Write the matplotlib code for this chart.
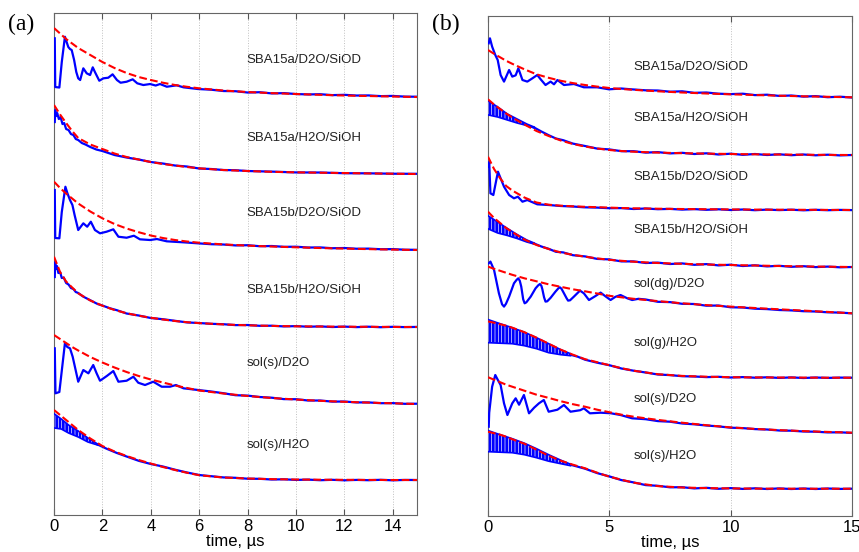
import numpy as np
import matplotlib.pyplot as plt

plt.rcParams['font.family'] = ['Liberation Sans', 'DejaVu Sans']
plt.rcParams['hatch.linewidth'] = 0.45

# ---- data (signal heights above each trace's own baseline, a.u.) ----
fit_t = [0, 0.25, 0.5, 0.75, 1, 1.5, 2, 2.5, 3, 3.5, 4, 4.5, 5, 5.5, 6, 7, 8, 9, 10, 11, 12, 13, 14, 15]

# panel (a)
a_names = ["SBA15a/D2O/SiOD", "SBA15a/H2O/SiOH", "SBA15b/D2O/SiOD",
           "SBA15b/H2O/SiOH", "sol(s)/D2O", "sol(s)/H2O"]

a1_t = [0.03, 0.05, 0.22, 0.32, 0.45, 0.52, 0.59, 0.66, 0.73, 0.83, 0.92, 1.0, 1.08, 1.21, 1.35, 1.49, 1.6, 1.69,
        1.87, 2.04, 2.24, 2.42, 2.6, 2.75, 3.0, 3.25, 3.44, 3.69, 3.97, 4.2, 4.38, 4.66, 5.07, 5.35, 5.6, 5.95,
        6.5, 7, 7.5, 8, 8.5, 9, 9.5, 10, 10.5, 11, 11.5, 12, 12.5, 13, 13.5, 14, 14.5, 15]
a1_sig = [58.7, 10, 9.5, 35, 60.3, 55, 50, 48, 47, 37, 25, 18.7, 17, 28.7, 23.7, 22, 29.7, 25,
          16.3, 18.7, 19.3, 22.7, 17, 14.3, 15.3, 17.7, 13.7, 12, 13, 11.5, 13, 10.3, 11.7, 9.7, 9, 8,
          7.3, 6, 5.8, 4.5, 4.8, 3.6, 3.9, 3.0, 2.6, 2.8, 1.9, 2.2, 1.5, 1.6, 0.9, 1.1, 0.4, 0.3]
a1_fit = [69, 63.5, 58, 53.5, 49, 42, 35, 29, 24, 20, 17, 14.3, 12, 10.2, 8.7, 6.5, 5, 3.9, 3.0, 2.2, 1.5, 1.0, 0.5, 0]

a2_t = [0.03, 0.05, 0.08, 0.13, 0.2, 0.27, 0.35, 0.42, 0.5, 0.6, 0.7, 0.8, 0.9, 1.0, 1.15, 1.3, 1.5, 1.75, 2,
        2.5, 3, 3.5, 4, 4.5, 5, 5.5, 6, 6.5, 7, 7.5, 8, 9, 10, 11, 12, 13, 14, 15]
a2_sig = [52, 64, 58, 61, 55, 57, 50, 51, 45, 44, 40, 39, 35, 34, 31, 29.5, 27, 24.5, 23,
          19, 16.5, 14.5, 12, 10.5, 8.5, 7.5, 5.5, 5, 4, 3.8, 3, 2.4, 1.6, 1.5, 0.8, 0.7, 0.3, 0.2]
a2_fit = [69, 59.5, 51, 43, 36, 29.5, 25, 20.5, 17, 14.5, 12, 10, 8.5, 7, 5.7, 4, 3, 2.2, 1.7, 1.3, 1, 0.6, 0.3, 0]

a3_t = [0.03, 0.05, 0.22, 0.32, 0.47, 0.55, 0.66, 0.76, 0.85, 1.0, 1.21, 1.37, 1.52, 1.69, 1.9, 2.17, 2.45, 2.66,
        3.0, 3.3, 3.55, 3.97, 4.25, 4.66, 5.35, 5.95, 6.5, 7, 7.5, 8, 8.5, 9, 9.5, 10, 10.5, 11, 11.5, 12,
        12.5, 13, 13.5, 14, 14.5, 15]
a3_sig = [60, 12, 11.7, 38, 63.3, 57, 50, 45, 35, 20, 26.7, 23.3, 28.3, 20, 16.7, 18.3, 20.7, 13.3,
          12.3, 14.3, 10.7, 10, 11, 8.7, 7.7, 6.7, 5.8, 5.5, 4.6, 4.8, 3.8, 4, 3.2, 3.3, 2.5, 2.6, 1.8, 2,
          1.3, 1.4, 0.8, 0.9, 0.3, 0.2]
a3_fit = [68.3, 62, 56.5, 51.5, 46.5, 38.5, 31.7, 26, 21.5, 17.8, 14.5, 12, 10, 8.5, 7.3, 5.6, 4.4, 3.5, 2.7, 2.0, 1.4, 0.9, 0.4, 0]

a4_t = [0.03, 0.05, 0.07, 0.12, 0.18, 0.25, 0.32, 0.4, 0.5, 0.6, 0.7, 0.8, 0.9, 1.0, 1.2, 1.4, 1.6, 1.8, 2, 2.3,
        2.6, 3, 3.5, 4, 4.5, 5, 5.5, 6, 6.5, 7, 7.5, 8, 8.5, 9, 9.5, 10, 10.5, 11, 11.5, 12, 12.5, 13,
        13.5, 14, 14.5, 15]
a4_sig = [50, 65, 58, 61, 54, 55, 49, 49.5, 44, 42.5, 39, 38, 35, 34, 30.5, 28, 25.5, 23, 21.5, 18.8,
          16.8, 13.5, 11.5, 9, 7.8, 6.2, 4.6, 4, 3.2, 2.8, 1.9, 2, 1.2, 1.3, 0.6, 0.9, 0.3, 0.6, 0, 0.4, -0.1, 0.3,
          -0.2, 0.2, -0.1, 0.1]
a4_fit = [70.3, 55, 45.5, 39.5, 33.7, 26.5, 21.3, 17, 13.8, 11.3, 9.3, 7.5, 6, 4.8, 3.9, 2.6, 1.7, 1.1, 0.7, 0.5, 0.3, 0.2, 0.1, 0]

a5_t = [0.03, 0.06, 0.22, 0.45, 0.55, 0.66, 0.77, 1.0, 1.21, 1.42, 1.62, 1.76, 1.9, 2.18, 2.45, 2.66, 3.0, 3.28,
        3.48, 3.76, 4.1, 4.45, 4.79, 5.04, 5.35, 5.96, 6.5, 7, 7.5, 8, 8.5, 9, 9.5, 10, 10.5, 11, 11.5, 12,
        12.5, 13, 13.5, 14, 14.5, 15]
a5_sig = [55.7, 10.7, 12, 60.7, 57, 55.7, 47.3, 22.3, 34, 30.7, 39, 30.7, 23.3, 28, 33, 22.3, 23.3, 27.3,
          21.3, 19, 22.3, 17.3, 17.3, 19, 15.7, 14, 12.5, 10.8, 8.8, 8.4, 7, 6.3, 4.9, 4.8, 3.5, 3.5, 2.4, 2.5,
          1.6, 1.6, 0.8, 0.9, 0.2, 0.3]
a5_fit = [69, 65, 61, 57, 53.5, 47, 41.5, 36.5, 32, 28, 24.5, 21.5, 18.5, 16, 13.5, 10.5, 8, 6, 4.5, 3.2, 2.2, 1.4, 0.7, 0]

a6_band_t = [0.02, 0.3, 0.6, 1.0, 1.4, 1.8]
a6_band_lo = [52, 51, 47, 43, 38, 35]
a6_band_hi = [66, 61, 55, 49, 42, 36]
a6_t = [1.8, 2.2, 2.6, 3, 3.5, 4, 4.5, 5, 5.5, 6, 6.5, 7, 7.5, 8, 8.5, 9, 9.5, 10, 10.5, 11, 11.5, 12, 12.5,
        13, 13.5, 14, 14.5, 15]
a6_sig = [35.5, 31, 27, 23.5, 19.2, 16, 13.5, 10.3, 7.5, 5, 3.8, 2.6, 2.2, 1.3, 1.2, 0.5, 0.7, 0.1, 0.4, -0.2,
          0.2, -0.3, 0.1, -0.2, 0.2, -0.3, 0.1, 0]
a6_fit = [70, 65, 60, 55, 50, 41.5, 34, 28.5, 24, 20, 16.5, 13, 10, 7.2, 4.8, 2.5, 1.5, 0.9, 0.5, 0.3, 0.2, 0.1, 0, 0]

# panel (b)
b_names = ["SBA15a/D2O/SiOD", "SBA15a/H2O/SiOH", "SBA15b/D2O/SiOD", "SBA15b/H2O/SiOH",
           "sol(dg)/D2O", "sol(g)/H2O", "sol(s)/D2O", "sol(s)/H2O"]

b1_t = [0.03, 0.08, 0.17, 0.3, 0.4, 0.52, 0.66, 0.87, 1.0, 1.14, 1.25, 1.42, 1.62, 1.83, 2.03, 2.17, 2.37, 2.58,
        2.72, 2.86, 3.13, 3.54, 3.95, 4.5, 4.98, 5.5, 5.9, 6.5, 7, 7.5, 8, 8.5, 9, 9.5, 10, 10.5, 11, 11.5,
        12, 12.5, 13, 13.5, 14, 14.5, 15]
b1_sig = [54, 59, 50.7, 42.3, 37.3, 22.3, 15.7, 27.3, 20.7, 22, 29, 17.3, 15.7, 19, 22.3, 18, 12.3, 15.7,
          13, 17.3, 12.3, 13.3, 10, 10, 8, 8.8, 8, 7, 6.8, 5.6, 6, 4.5, 4.8, 3.6, 3.2, 3.6, 2.2, 2.6,
          1.4, 1.8, 0.7, 1.2, 0.1, 0.6, -0.2]
b1_fit = [47.3, 43.5, 40, 36.5, 33.5, 28, 23, 19.5, 16.5, 14.2, 12.3, 10.7, 9.3, 8.3, 7.5, 6, 4.8, 3.8, 3, 2.3, 1.6, 1, 0.5, 0]

b2_band_t = [0.02, 0.4, 0.8, 1.2, 1.6, 1.9]
b2_band_lo = [40, 38, 35, 32, 29.5, 27]
b2_band_hi = [54, 48, 41, 36, 31, 28]
b2_t = [1.9, 2.2, 2.5, 2.8, 3.1, 3.5, 4, 4.5, 5, 5.5, 6, 6.5, 7, 7.5, 8, 8.5, 9, 9.5, 10, 10.5, 11, 11.5, 12,
        12.5, 13, 13.5, 14, 14.5, 15]
b2_sig = [27.5, 23.5, 19.8, 16.5, 14.8, 11.4, 9, 6.4, 5.6, 3.8, 3.8, 2.4, 2.9, 1.6, 2.2, 1.0, 1.7, 0.5, 1.3,
          0.2, 1, 0, 0.7, -0.2, 0.5, -0.3, 0.3, -0.4, 0]
b2_fit = [55.7, 50.5, 46, 41.5, 37.5, 30.5, 24, 19, 14.5, 11, 8.5, 6.5, 5, 4, 3.3, 2.4, 1.8, 1.4, 1, 0.7, 0.5, 0.3, 0.1, 0]

b3_t = [0.03, 0.05, 0.1, 0.22, 0.41, 0.52, 0.66, 0.87, 1.07, 1.23, 1.42, 1.62, 2.03, 2.5, 3, 3.5, 3.95, 4.5, 5,
        5.5, 6, 6.5, 7, 7.5, 8, 8.5, 9, 9.5, 10, 10.5, 11, 11.5, 12, 12.5, 13, 13.5, 14, 14.5, 15]
b3_sig = [43.3, 48, 16.7, 15, 38.3, 31.7, 23.3, 15, 11.7, 13.3, 8.3, 10, 5.7, 5, 4, 3.5, 2.7, 2.4, 1.8,
          1.9, 1, 1.5, 0.8, 1.1, 0.4, 0.9, 0.2, 0.7, 0, 0.5, -0.2, 0.4, -0.1, 0.3, -0.3, 0.2, -0.2, 0.1, -0.1]
b3_fit = [53.3, 41, 31.7, 24, 19.5, 12.5, 7.5, 5.3, 4.3, 3.7, 3.2, 2.8, 2.4, 2, 1.7, 1.3, 1, 0.8, 0.6, 0.4, 0.3, 0.2, 0.1, 0]

b4_band_t = [0.02, 0.4, 0.8, 1.2, 1.6, 1.9]
b4_band_lo = [38, 34, 31.5, 28.5, 25, 23]
b4_band_hi = [51, 45, 38.5, 32.5, 27, 24]
b4_t = [1.9, 2.2, 2.5, 2.8, 3.1, 3.5, 4, 4.5, 5, 5.5, 6, 6.5, 7, 7.5, 8, 8.5, 9, 9.5, 10, 10.5, 11, 11.5, 12,
        12.5, 13, 13.5, 14, 14.5, 15]
b4_sig = [23.5, 20.5, 18.2, 15.2, 14.6, 11.8, 10.6, 8.1, 7.6, 5.6, 5.6, 4, 4.4, 3, 3.6, 2.2, 2.9, 1.6, 2.3,
          1, 1.7, 0.6, 1.2, 0.2, 0.8, -0.1, 0.4, -0.3, 0]
b4_fit = [55.3, 49, 44, 39, 35, 27.5, 22, 18, 14.5, 12.2, 10.3, 8.6, 7.2, 6.2, 5.3, 4, 3.2, 2.5, 2, 1.5, 1, 0.6, 0.3, 0]

b5_t = [0.03, 0.1, 0.25, 0.45, 0.58, 0.66, 0.74, 0.87, 1.07, 1.18, 1.25, 1.31, 1.37, 1.45, 1.51, 1.58, 1.76,
        1.96, 2.07, 2.14, 2.2, 2.24, 2.31, 2.37, 2.44, 2.58, 2.78, 2.9, 2.96, 3.03, 3.13, 3.24, 3.3, 3.38, 3.54,
        3.79, 3.95, 4.16, 4.43, 4.64, 4.84, 5.05, 5.25, 5.46, 5.74, 5.94, 6.2, 6.5, 7, 7.5,
        8, 8.5, 9, 9.5, 10, 10.5, 11, 11.5, 12, 12.5, 13, 13.5, 14, 14.5, 15]
b5_sig = [50, 51.7, 43.3, 20, 9, 6.7, 9.5, 16.7, 30, 33.5, 35, 32.5, 26.7, 14, 10, 11, 16.7,
          25, 28, 29.3, 27.5, 24, 16, 11.7, 12, 15.5, 21.7, 25, 26, 24.5, 20, 15, 12.7, 13, 16.7,
          22.7, 20, 13.3, 17.3, 20.7, 17, 13.3, 16.5, 18.3, 15, 13.3, 14.5, 13.8, 11.5, 11.2,
          9.5, 9.3, 7.6, 7.8, 6, 5.8, 4.6, 4.2, 3.3, 2.9, 2.1, 1.8, 1, 0.7, 0]
b5_fit = [46.7, 44.5, 42.5, 40.5, 38.5, 35, 32, 29, 26.5, 24, 22, 19.8, 17.5, 16, 14.5, 12.2, 10, 8.2, 6.7, 5.3, 4, 2.7, 1.4, 0]

b6_band_t = [0.02, 0.5, 1, 1.5, 2, 2.5, 3, 3.4]
b6_band_lo = [35, 34.5, 34, 32, 29, 25, 23, 22]
b6_band_hi = [58, 54, 50, 45.5, 40, 34, 28, 24]
b6_t = [3.4, 3.7, 4, 4.5, 5, 5.5, 6, 6.5, 7, 7.5, 8, 8.5, 9, 9.5, 10, 10.5, 11, 11.5, 12, 12.5, 13, 13.5, 14,
        14.5, 15]
b6_sig = [23, 21, 18, 15, 12.5, 9.2, 7, 5.2, 3.2, 2.6, 1.5, 1.2, 0.6, 0.9, 0.2, 0.6, 0, 0.4, -0.2, 0.3, -0.3,
          0.2, -0.2, 0.1, 0]
b6_fit = [56.3, 55, 53.5, 52, 50, 45.5, 40, 34, 28, 23, 18.5, 15.5, 12.5, 9.5, 7, 3.5, 1.8, 1, 0.5, 0.3, 0.2, 0.1, 0, 0]

b7_t = [0.03, 0.05, 0.17, 0.3, 0.4, 0.52, 0.66, 0.8, 1.0, 1.14, 1.28, 1.48, 1.69, 1.9, 2.1, 2.3, 2.5, 2.86, 3.13,
        3.4, 3.8, 3.95, 4.2, 4.64, 5.05, 5.46, 5.94, 6.5, 7, 7.5, 8, 8.5, 9, 9.5, 10, 10.5, 11, 11.5, 12,
        12.5, 13, 13.5, 14, 14.5, 15]
b7_sig = [6, 20, 46, 57.7, 53, 47.7, 29.4, 17.7, 29.4, 34.4, 28, 37.7, 19.4, 25, 29.4, 32.7, 21, 23, 27.7,
          21, 22.5, 24.4, 19.4, 20, 19.5, 17.7, 14.4, 13.5, 11.6, 11, 9.2, 8.4, 7.2, 6.3, 5, 4.6, 3.6, 3.2, 2.2,
          2, 1.2, 1, 0.3, 0.4, -0.2]
b7_fit = [55.5, 53, 50.5, 48, 46, 42, 38, 34.8, 31.5, 28.5, 26, 23, 20.5, 18, 16, 12.8, 10, 7.5, 5.3, 3.8, 2.6, 1.6, 0.8, 0]

b8_band_t = [0.02, 0.5, 1, 1.5, 2, 2.5, 3, 3.4]
b8_band_lo = [37, 36.5, 36, 34, 31, 27.5, 25, 23]
b8_band_hi = [58, 54, 50, 45.5, 40, 34, 28.5, 24.5]
b8_t = [3.4, 3.7, 4, 4.5, 5, 5.5, 6, 6.5, 7, 7.5, 8, 8.5, 9, 9.5, 10, 10.5, 11, 11.5, 12, 12.5, 13, 13.5, 14,
        14.5, 15]
b8_sig = [24, 22, 20, 15.6, 12.3, 8.6, 6.3, 3.6, 2.9, 1.4, 1.5, 0.3, 0.9, -0.1, 0.6, -0.2, 0.4, -0.3, 0.3,
          -0.3, 0.2, -0.3, 0.2, -0.2, 0]
b8_fit = [57, 55.5, 54, 52, 49.5, 45, 39, 33, 28, 24, 20.4, 16, 12, 9, 6, 2.6, 1.2, 0.6, 0.3, 0.1, 0, 0, 0, 0]

# ---- layout: vertical stacking offsets, label positions ----
a_base = [418, 341, 265, 188, 111, 35]
a_label_y = [455, 377, 302, 225, 152, 70]
b_base = [418.7, 361, 306, 249, 202.7, 138.3, 83.3, 27.3]
b_label_y = [449.3, 397.7, 339.3, 286, 232, 172.7, 117, 60]

a_traces = [(a1_t, a1_sig, a1_fit, None),
            (a2_t, a2_sig, a2_fit, None),
            (a3_t, a3_sig, a3_fit, None),
            (a4_t, a4_sig, a4_fit, None),
            (a5_t, a5_sig, a5_fit, None),
            (a6_t, a6_sig, a6_fit, (a6_band_t, a6_band_lo, a6_band_hi))]
b_traces = [(b1_t, b1_sig, b1_fit, None),
            (b2_t, b2_sig, b2_fit, (b2_band_t, b2_band_lo, b2_band_hi)),
            (b3_t, b3_sig, b3_fit, None),
            (b4_t, b4_sig, b4_fit, (b4_band_t, b4_band_lo, b4_band_hi)),
            (b5_t, b5_sig, b5_fit, None),
            (b6_t, b6_sig, b6_fit, (b6_band_t, b6_band_lo, b6_band_hi)),
            (b7_t, b7_sig, b7_fit, None),
            (b8_t, b8_sig, b8_fit, (b8_band_t, b8_band_lo, b8_band_hi))]


def draw_trace(ax, base, t, sig, fit, band):
    if band is not None:
        bt, lo, hi = band
        lo = base + np.array(lo)
        hi = base + np.array(hi)
        ax.fill_between(bt, lo, hi, facecolor='#0000ff', edgecolor='white', hatch='|||||', lw=0, zorder=3)
        ax.plot(bt, hi, color='#0000ff', lw=1.2, zorder=3)
        ax.plot(bt, lo, color='#0000ff', lw=1.2, zorder=3)
    ax.plot(t, base + np.array(sig), color='#0000ff', lw=1.6, zorder=3)
    ax.plot(fit_t, base + np.array(fit), color='#ff0000', ls='--', lw=1.5, zorder=4)


def setup_axes(ax, ticks, ymax):
    ax.set_xlim(0, 15)
    ax.set_ylim(0, ymax)
    ax.set_xticks(ticks)
    ax.set_yticks([])
    ax.tick_params(axis='x', direction='in', top=True, bottom=True, length=4,
                   labelsize=12, pad=3, color='#555555')
    ax.grid(axis='x', linestyle=':', color='#c0c0c0', lw=0.7)
    for s in ax.spines.values():
        s.set_color('#666666')
        s.set_linewidth(0.8)
    ax.set_xlabel('time, µs', fontsize=12, labelpad=0)


fig = plt.figure(figsize=(8.59, 5.52), dpi=100)
ax_a = fig.add_axes([0.0629, 0.067, 0.4226, 0.9094])
ax_b = fig.add_axes([0.5681, 0.0652, 0.4238, 0.9058])

setup_axes(ax_a, [0, 2, 4, 6, 8, 10, 12, 14], 502)
setup_axes(ax_b, [0, 5, 10, 15], 500)

for (t, sig, fit, band), base in zip(a_traces, a_base):
    draw_trace(ax_a, base, t, sig, fit, band)
for name, y in zip(a_names, a_label_y):
    ax_a.text(7.95, y, name, fontsize=9.5, color='#222222', va='center', ha='left')

for (t, sig, fit, band), base in zip(b_traces, b_base):
    draw_trace(ax_b, base, t, sig, fit, band)
for name, y in zip(b_names, b_label_y):
    ax_b.text(6.0, y, name, fontsize=9.5, color='#222222', va='center', ha='left')

fig.text(0.009, 0.9565, '(a)', fontsize=17, family=['Liberation Serif', 'DejaVu Serif'], va='center')
fig.text(0.503, 0.9565, '(b)', fontsize=17, family=['Liberation Serif', 'DejaVu Serif'], va='center')

fig.savefig('out.png', dpi=100)
